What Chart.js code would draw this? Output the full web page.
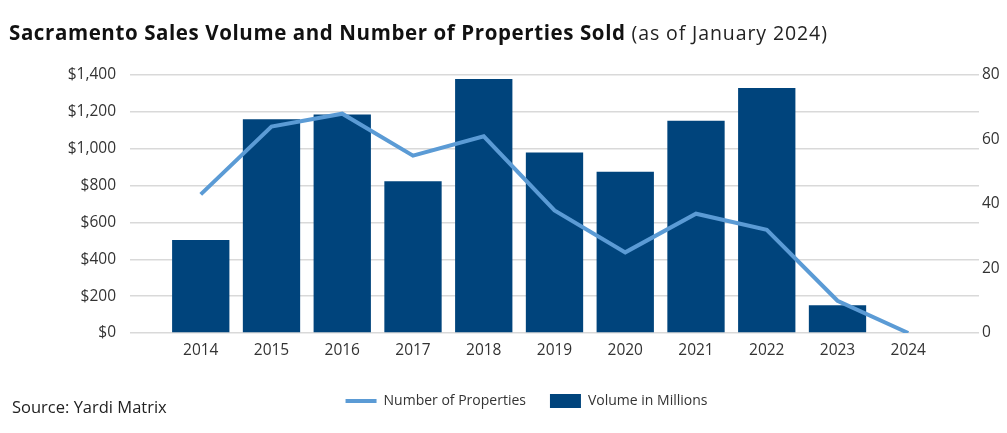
<!DOCTYPE html>
<html>
<head>
<meta charset="utf-8">
<script src="https://cdn.jsdelivr.net/npm/chart.js@4"></script>
<style>
  body { margin: 0; background: #fff; }
  #wrap { position: relative; width: 1007px; height: 433px; }
  #title { position: absolute; left: 9px; top: 18px; font-family: "Open Sans", sans-serif; font-size: 20.5px; font-weight: bold; color: #111; white-space: nowrap; letter-spacing: 0.6px; }
  #title span { font-weight: normal; font-size: 19.5px; color: #222; letter-spacing: 0.9px; }
  #source { position: absolute; left: 12px; top: 395px; font-family: "Open Sans", sans-serif; font-size: 16.5px; color: #222; }
  canvas { position: absolute; left: 0; top: 0; }
</style>
</head>
<body>
<div id="wrap">
  <canvas id="chart" width="1007" height="433"></canvas>
  <div id="title">Sacramento Sales Volume and Number of Properties Sold <span>(as of January 2024)</span></div>
  <div id="source">Source: Yardi Matrix</div>
</div>
<script>
// Chart data
const years = [2014, 2015, 2016, 2017, 2018, 2019, 2020, 2021, 2022, 2023, 2024];
const volumeMillions = [505, 1160, 1185, 823, 1378, 980, 875, 1152, 1330, 150, 0];
const propertiesSold = [43, 64, 68, 55, 61, 38, 25, 37, 32, 10, 0];
const leftTicks = [0, 200, 400, 600, 800, 1000, 1200, 1400];
const rightTicks = [0, 20, 40, 60, 80];

const tickFont = { family: '"Open Sans", sans-serif', size: 15.5 };

new Chart(document.getElementById('chart').getContext('2d'), {
    type: 'bar',
    data: {
        datasets: [
            {
                type: 'line',
                label: 'Number of Properties',
                data: years.map((y, i) => ({ x: y, y: propertiesSold[i] })),
                yAxisID: 'y1',
                borderColor: '#5b9bd5',
                backgroundColor: '#5b9bd5',
                borderWidth: 4,
                pointRadius: 0,
                pointStyle: 'line',
                tension: 0,
                order: 0
            },
            {
                label: 'Volume in Millions',
                data: years.map((y, i) => ({ x: y, y: volumeMillions[i] })),
                yAxisID: 'y',
                backgroundColor: '#00447c',
                borderWidth: 0,
                barPercentage: 0.81,
                categoryPercentage: 1,
                pointStyle: 'rect',
                order: 1
            }
        ]
    },
    options: {
        responsive: false,
        animation: false,
        layout: { padding: { top: 75, left: 46, right: 0, bottom: 15 } },
        plugins: {
            tooltip: { enabled: false },
            legend: {
                position: 'bottom',
                labels: {
                    usePointStyle: true,
                    pointStyleWidth: 31,
                    boxHeight: 14,
                    padding: 24,
                    color: '#333',
                    font: { family: '"Open Sans", sans-serif', size: 14 }
                }
            }
        },
        scales: {
            x: {
                type: 'linear',
                min: 2013,
                max: 2025,
                offset: false,
                grid: { display: false, drawTicks: false },
                border: { display: false },
                afterBuildTicks: (s) => { s.ticks = years.map(v => ({ value: v })); },
                afterFit: (s) => { s.height = 37; },
                ticks: {
                    color: '#333',
                    font: tickFont,
                    padding: 8,
                    callback: (v) => String(v)
                }
            },
            y: {
                position: 'left',
                min: 0,
                max: 1400,
                afterBuildTicks: (s) => { s.ticks = leftTicks.map(v => ({ value: v })); },
                afterFit: (s) => { s.width = 84; },
                grid: { color: '#d9d9d9', lineWidth: 1.5, drawTicks: false },
                border: { display: false },
                ticks: {
                    color: '#333',
                    font: tickFont,
                    padding: 14,
                    callback: (v) => '$' + v.toLocaleString('en-US')
                }
            },
            y1: {
                position: 'right',
                min: 0,
                max: 80,
                afterBuildTicks: (s) => { s.ticks = rightTicks.map(v => ({ value: v })); },
                afterFit: (s) => { s.width = 28; },
                grid: { display: false, drawTicks: false },
                border: { display: false },
                ticks: {
                    color: '#333',
                    font: tickFont,
                    padding: 3
                }
            }
        }
    }
});
</script>
</body>
</html>
